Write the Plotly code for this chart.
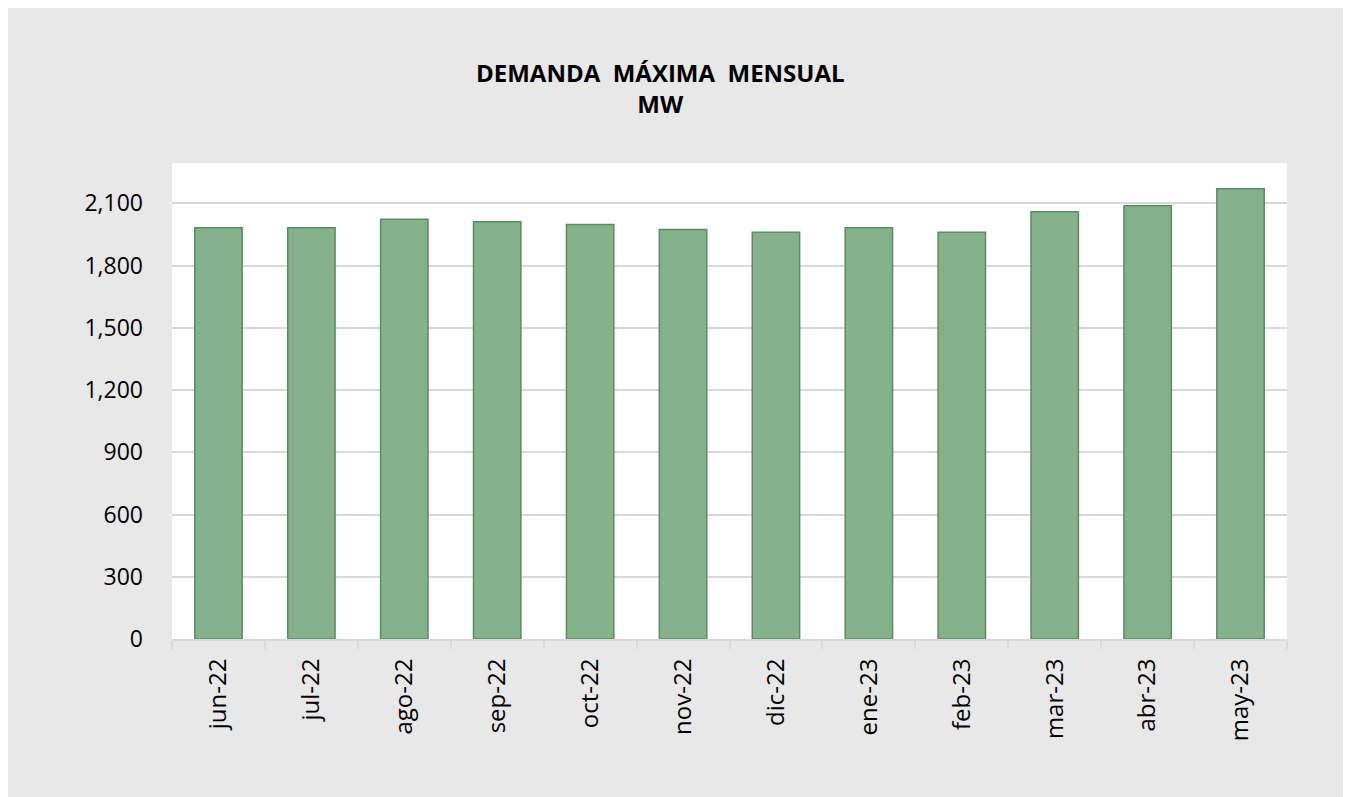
import plotly.graph_objects as go

months = ["jun-22", "jul-22", "ago-22", "sep-22", "oct-22", "nov-22",
          "dic-22", "ene-23", "feb-23", "mar-23", "abr-23", "may-23"]
demand_mw = [1982, 1982, 2023, 2011, 1998, 1973, 1960, 1982, 1960, 2059, 2088, 2170]
y_ticks = [0, 300, 600, 900, 1200, 1500, 1800, 2100]
title_lines = ["DEMANDA  MÁXIMA  MENSUAL", "MW"]

# page has 8px body margin, figure sits at (8, 8)
W, H = 1343, 789
L, R, T, B = 164, 64, 155, 158
pw, ph = W - L - R, H - T - B

def px_x(p):
    return (p - L) / pw

def px_y(p):
    return (H - B - p) / ph

FONT = "Open Sans"
GRAY = "#E8E8E8"
GRID = "#D9D9D9"

fig = go.Figure()
fig.add_trace(go.Bar(
    x=months, y=demand_mw,
    marker=dict(color="#83B28B", line=dict(color="#5E8966", width=1.5)),
    hoverinfo="x+y",
))

fig.update_layout(
    width=W, height=H,
    margin=dict(l=L, r=R, t=T, b=B, pad=0),
    paper_bgcolor=GRAY,
    plot_bgcolor="white",
    bargap=0.49,
    showlegend=False,
    font=dict(family=FONT, color="black"),
    xaxis=dict(
        type="category",
        tickangle=-90,
        tickfont=dict(size=24, family=FONT, color="black"),
        showline=True, linecolor=GRID, linewidth=2,
        ticks="outside", tickson="boundaries", ticklen=8, tickcolor=GRID, tickwidth=2,
        ticklabelstandoff=8,
        showgrid=False,
    ),
    yaxis=dict(
        range=[0, 2294],
        tickvals=y_ticks,
        ticktext=[f"{v:,}" for v in y_ticks],
        tickfont=dict(size=23, family=FONT, color="black"),
        showgrid=True, gridcolor=GRID, gridwidth=2,
        zeroline=False, showline=False, ticks="",
        ticklabelstandoff=28,
    ),
    annotations=[
        dict(text="<b>" + "<br>".join(title_lines) + "</b>",
             xref="paper", yref="paper", x=px_x(652), y=px_y(80),
             xanchor="center", yanchor="middle", showarrow=False,
             font=dict(size=24, family=FONT, color="black"), align="center"),
    ],
)

fig.write_html("out.html")
